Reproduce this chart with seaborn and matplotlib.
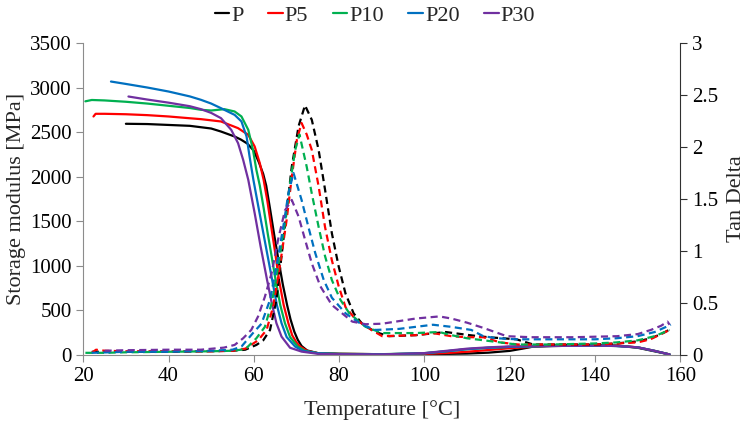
import numpy as np
import pandas as pd
import matplotlib
matplotlib.use("Agg")
import matplotlib.pyplot as plt
from matplotlib.lines import Line2D
import seaborn as sns

samples = ['P', 'P5', 'P10', 'P20', 'P30']
colors = ['#000000', '#FF0000', '#00B050', '#0070C0', '#7030A0']

# storage modulus [MPa] vs temperature [°C]
E_T = {
  'P': [30, 35, 40, 45, 50, 52.3, 55.5, 57, 58.5, 60, 61.2, 62.2, 62.9, 63.8, 64.8, 65.8, 66.8, 67.8, 68.6, 69.5,
        70.3, 71.2, 72.5, 75, 80, 90, 100, 110, 115, 120, 123, 125.5, 130, 135, 140, 145, 150, 154, 157.5],
  'P5': [22.4, 22.9, 25, 30, 35, 40, 45, 47.6, 52.3, 56.3, 58.7, 60.2, 61.4, 62.3, 63.2, 64.2, 65, 65.9, 67,
         68.1, 69, 70, 70.9, 72.5, 75, 80, 90, 100, 105, 110, 115, 120, 125, 130, 140, 145, 150, 154, 157.5],
  'P10': [20.5, 22, 25, 30, 35, 40, 45, 47.6, 50, 53.1, 55.5, 57.1, 58.7, 59.8, 60.6, 61.4, 62.3, 63.3, 64.2,
          65.1, 66.2, 67.3, 68.5, 70.3, 72, 75, 80, 90, 100, 105, 110, 115, 120, 130, 140, 145, 150, 154, 157.5],
  'P20': [26.5, 30, 35, 40, 45, 47.6, 50, 52.3, 55.5, 57.1, 58.3, 59, 59.9, 61, 62.1, 63.2, 64.3, 65.4, 66.5,
          67.7, 69.7, 71.5, 75, 80, 90, 100, 105, 110, 115, 120, 130, 140, 145, 150, 154, 157.5],
  'P30': [30.6, 35, 40, 45, 47.6, 50, 52.3, 54.7, 56.3, 57.5, 58.7, 60.2, 61.6, 63.1, 64.3, 65.3, 66.5, 68.5,
          71.2, 75, 80, 90, 100, 105, 110, 115, 120, 130, 140, 145, 150, 154, 157.5],
}
E_val = {
  'P': [2593, 2590, 2580, 2570, 2540, 2506, 2450, 2415, 2370, 2290, 2160, 2030, 1900, 1640, 1340, 1060, 790,
        560, 400, 260, 170, 100, 50, 20, 12, 8, 8, 15, 25, 45, 70, 93, 105, 110, 110, 105, 80, 40, 5],
  'P5': [2675, 2705, 2705, 2700, 2690, 2675, 2655, 2645, 2619, 2544, 2469, 2338, 2151, 1964, 1720, 1400, 1150,
         842, 560, 356, 220, 140, 93, 45, 20, 12, 8, 12, 20, 35, 55, 75, 90, 100, 105, 105, 85, 45, 5],
  'P10': [2845, 2860, 2855, 2840, 2820, 2795, 2770, 2750, 2742, 2757, 2731, 2675, 2525, 2301, 2076, 1900, 1650,
          1350, 1100, 842, 560, 356, 200, 93, 45, 20, 12, 8, 20, 40, 64, 80, 90, 100, 105, 100, 85, 45, 5],
  'P20': [3067, 3040, 3000, 2955, 2900, 2862, 2820, 2768, 2693, 2619, 2450, 2226, 1964, 1680, 1400, 1120, 842,
          560, 356, 200, 93, 45, 18, 10, 6, 18, 40, 65, 80, 90, 100, 105, 100, 85, 45, 5],
  'P30': [2899, 2865, 2830, 2790, 2757, 2715, 2656, 2525, 2376, 2188, 1964, 1590, 1215, 842, 560, 356, 205, 80,
          37, 12, 8, 6, 20, 45, 70, 85, 95, 100, 105, 100, 85, 45, 5],
}

# tan delta vs temperature [°C]
D_T = {
  'P': [22, 30, 40, 50, 55, 58, 60.6, 62.2, 63.8, 65.3, 66.5, 67.7, 68.9, 70.5, 72, 73.6, 75.2, 76.7, 78.3, 79.9,
        81.5, 83.4, 85.4, 88.5, 91.7, 98, 105, 110.6, 115, 121.6, 125.5, 130, 140, 145, 150, 153.1, 155.5, 157.8],
  'P5': [22, 23, 25, 30, 40, 50, 55, 58, 61, 63, 64.5, 66.1, 67.7, 68.9, 70.1, 71.2, 72.4, 73.6, 75.2, 76.7,
         78.3, 79.9, 81.5, 83.9, 87.6, 90.1, 98, 102, 106.3, 110, 113.8, 117.8, 122, 130, 140, 150, 153, 157.5],
  'P10': [20.5, 25, 30, 40, 50, 55, 58, 60.6, 62.6, 64.2, 65.7, 67.3, 68.5, 69.7, 70.7, 72.4, 73.6, 75.2, 76.7,
          78.3, 80.3, 82.4, 86.2, 90.1, 98, 103.5, 106.3, 110, 114, 121.6, 130, 140, 145, 150, 154, 157.5],
  'P20': [22, 30, 40, 50, 55, 57.1, 59.8, 61.8, 63.8, 65.3, 66.9, 68.1, 69.3, 71.2, 72.8, 74.4, 76.4, 78.3, 81.5,
          85.4, 88.5, 94, 102, 106.3, 111, 113.8, 117, 121.6, 130, 140, 145, 150, 154, 157.8],
  'P30': [25, 30, 40, 47.6, 53, 55.5, 57.5, 59.4, 61, 62.6, 64.2, 65.7, 67.3, 68.9, 70.5, 72, 73.6, 75.6, 78.3,
          80.7, 83.1, 86.2, 90.1, 98, 103.5, 106.3, 110, 113.8, 119.3, 125, 135, 145.2, 150, 153.1, 155.5, 157,
          157.5],
}
D_val = {
  'P': [0.03, 0.03, 0.03, 0.035, 0.04, 0.05, 0.096, 0.14, 0.24, 0.53, 0.95, 1.39, 1.81, 2.2, 2.4, 2.26, 1.97, 1.59,
        1.17, 0.85, 0.59, 0.4, 0.3, 0.22, 0.18, 0.19, 0.22, 0.19, 0.17, 0.15, 0.1, 0.1, 0.1, 0.11, 0.13, 0.16, 0.2,
        0.25],
  'P5': [0.02, 0.05, 0.04, 0.035, 0.035, 0.035, 0.04, 0.06, 0.14, 0.24, 0.46, 0.85, 1.3, 1.71, 2.07, 2.23, 2.12,
         1.97, 1.62, 1.23, 0.91, 0.66, 0.46, 0.34, 0.24, 0.18, 0.19, 0.21, 0.18, 0.17, 0.17, 0.12, 0.1, 0.1, 0.1,
         0.12, 0.15, 0.24],
  'P10': [0.02, 0.02, 0.025, 0.03, 0.035, 0.04, 0.055, 0.16, 0.27, 0.5, 0.85, 1.27, 1.65, 1.97, 2.12, 1.81, 1.55,
          1.23, 0.95, 0.72, 0.53, 0.4, 0.27, 0.21, 0.21, 0.22, 0.19, 0.16, 0.14, 0.1, 0.1, 0.11, 0.12, 0.14, 0.18,
          0.24],
  'P20': [0.02, 0.03, 0.03, 0.04, 0.05, 0.08, 0.21, 0.3, 0.53, 0.85, 1.23, 1.55, 1.75, 1.49, 1.23, 0.98, 0.72,
          0.55, 0.4, 0.29, 0.24, 0.25, 0.29, 0.27, 0.24, 0.18, 0.16, 0.15, 0.15, 0.15, 0.16, 0.18, 0.22, 0.29],
  'P30': [0.04, 0.045, 0.05, 0.05, 0.07, 0.096, 0.16, 0.24, 0.37, 0.56, 0.79, 1.11, 1.39, 1.49, 1.33, 1.11, 0.88,
          0.66, 0.48, 0.4, 0.32, 0.295, 0.3, 0.35, 0.37, 0.35, 0.31, 0.26, 0.18, 0.17, 0.17, 0.18, 0.2, 0.24, 0.28,
          0.32, 0.29],
}

df_E = pd.concat([pd.DataFrame({'T': E_T[s], 'E': E_val[s], 'sample': s}) for s in samples], ignore_index=True)
df_D = pd.concat([pd.DataFrame({'T': D_T[s], 'D': D_val[s], 'sample': s}) for s in samples], ignore_index=True)

sns.set_style('white')
plt.rcParams['font.family'] = ['Liberation Serif', 'DejaVu Serif']
plt.rcParams['font.size'] = 15

f, ax = plt.subplots(figsize=(7.5, 4.21), dpi=100)
f.subplots_adjust(left=0.111, right=0.907, bottom=0.157, top=0.898)
palette = dict(zip(samples, colors))

sns.lineplot(data=df_E, x='T', y='E', hue='sample', palette=palette, sort=False,
             estimator=None, lw=1.6, legend=False, ax=ax)
ax2 = ax.twinx()
sns.lineplot(data=df_D, x='T', y='D', hue='sample', palette=palette, sort=False,
             estimator=None, lw=1.6, legend=False, ax=ax2)
for line in ax2.get_lines():
  line.set_dashes([3.2, 2.0])

ax.set_xlim(20, 160)
ax.set_ylim(0, 3500)
ax2.set_ylim(0, 3)
ax.set_xticks(np.arange(20, 161, 20))
ax.set_yticks(np.arange(0, 3501, 500))
ax2.set_yticks([0, 0.5, 1, 1.5, 2, 2.5, 3], ['0', '0.5', '1', '1.5', '2', '2.5', '3'])

ax.set_xlabel('Temperature [°C]', fontsize=16, labelpad=10)
ax.set_ylabel('Storage modulus [MPa]', fontsize=16, labelpad=3)
ax2.set_ylabel('Tan Delta', fontsize=16, labelpad=6)

for a in (ax, ax2):
  a.spines['top'].set_visible(False)
ax.spines['left'].set_color('#8c8c8c')
ax.spines['bottom'].set_color('#8c8c8c')
ax.spines['right'].set_visible(False)
ax2.spines['left'].set_visible(False)
ax2.spines['bottom'].set_visible(False)
ax2.spines['right'].set_color('#303030')
ax.tick_params(axis='both', which='major', direction='out', length=5, width=0.8,
               colors='#8c8c8c', labelcolor='black', labelsize=15, left=True, bottom=True)
ax2.tick_params(axis='y', direction='out', length=5, width=0.8, colors='#303030',
                labelcolor='black', labelsize=15, right=True)

handles = [Line2D([0], [0], color=c, lw=1.6) for c in colors]
f.legend(handles, samples, loc='upper center', bbox_to_anchor=(0.5, 1.035), ncol=5, frameon=False,
         handlelength=0.65, handletextpad=0.1, columnspacing=1.1, fontsize=16)

plt.savefig('out.png', dpi=100)
plt.close()
